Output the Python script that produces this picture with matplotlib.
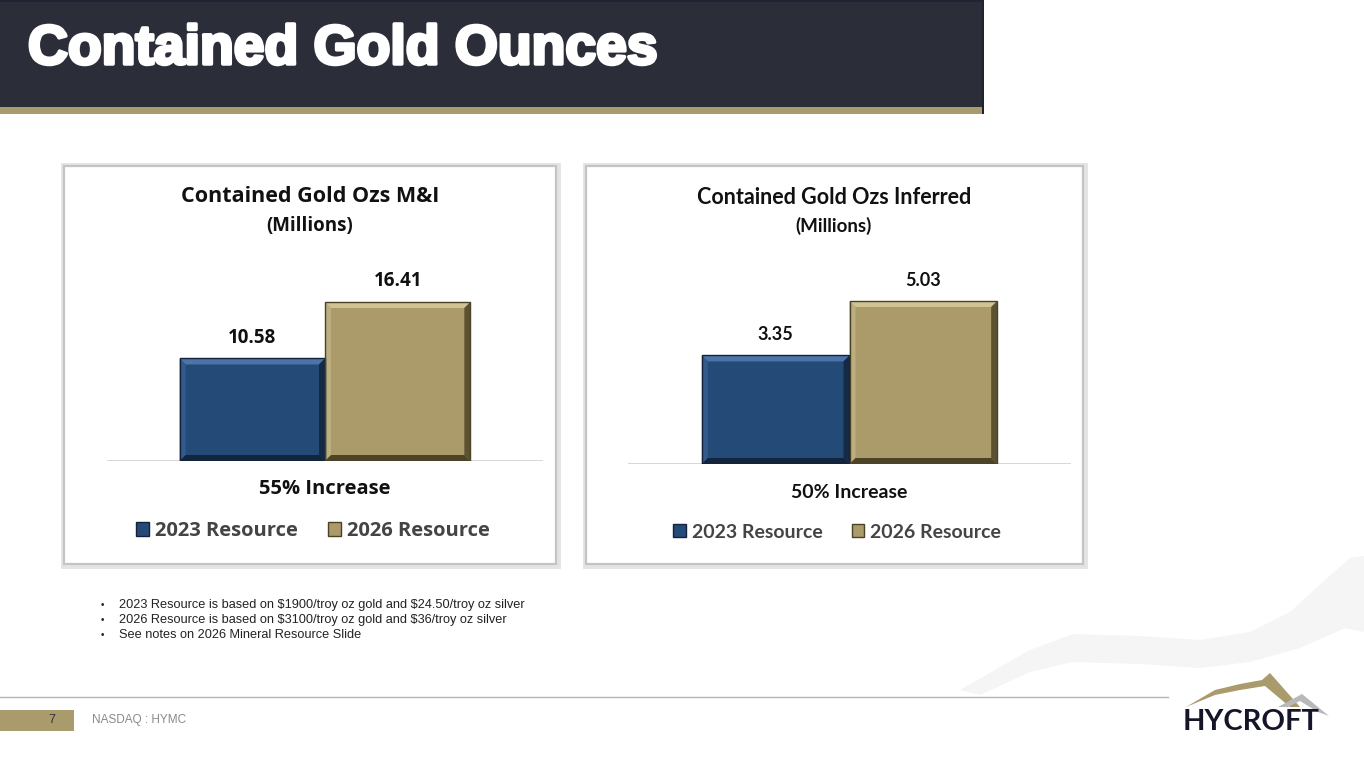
import matplotlib.pyplot as plt
from matplotlib.patches import Rectangle, Polygon, Patch
import matplotlib.patheffects as pe

W, H = 1364, 766

# chart data
series = ["2023 Resource", "2026 Resource"]
mi_values = [10.58, 16.41]
inferred_values = [3.35, 5.03]
mi_note = "55% Increase"
inferred_note = "50% Increase"

footnotes = [
    "2023 Resource is based on $1900/troy oz gold and $24.50/troy oz silver",
    "2026 Resource is based on $3100/troy oz gold and $36/troy oz silver",
    "See notes on 2026 Mineral Resource Slide",
]

BLUE = dict(face="#244a77", top="#4b74a9", left="#34598b", right="#152a45",
            bottom="#12253d", edge="#13223a")
GOLD = dict(face="#ab9b6b", top="#d0c394", left="#bcae80", right="#5c5131",
            bottom="#4d4428", edge="#4a4127")


def fx(x):
    return x / W


def fy(y):
    return 1 - y / H


def bevel(ax, bar, c, px=6):
    # bevelled edges drawn around the bar rectangle
    x0, y0 = bar.get_x(), bar.get_y()
    x1, y1 = x0 + bar.get_width(), y0 + bar.get_height()
    bb = ax.get_window_extent()
    xl, yl = ax.get_xlim(), ax.get_ylim()
    dx = px * (xl[1] - xl[0]) / bb.width
    dy = px * (yl[1] - yl[0]) / bb.height
    quads = [
        ([(x0, y1), (x1, y1), (x1 - dx, y1 - dy), (x0 + dx, y1 - dy)], c["top"]),
        ([(x0, y0), (x0, y1), (x0 + dx, y1 - dy), (x0 + dx, y0 + dy)], c["left"]),
        ([(x1, y0), (x1, y1), (x1 - dx, y1 - dy), (x1 - dx, y0 + dy)], c["right"]),
        ([(x0, y0), (x1, y0), (x1 - dx, y0 + dy), (x0 + dx, y0 + dy)], c["bottom"]),
    ]
    for pts, col in quads:
        ax.add_patch(Polygon(pts, closed=True, facecolor=col, edgecolor="none",
                             zorder=3))
    ax.add_patch(Rectangle((x0, y0), x1 - x0, y1 - y0, facecolor="none",
                           edgecolor=c["edge"], lw=1.0, zorder=4))


def panel(fig, x0, y0, x1, y1):
    fig.add_artist(Rectangle((fx(x0 - 1), fy(y1 + 2)), (x1 - x0 + 3) / W,
                             (y1 - y0 + 3) / H, transform=fig.transFigure,
                             facecolor="none", edgecolor="#e4e4e4", lw=3.5,
                             zorder=-6))
    fig.add_artist(Rectangle((fx(x0), fy(y1)), (x1 - x0) / W, (y1 - y0) / H,
                             transform=fig.transFigure, facecolor="white",
                             edgecolor="#c4c4c4", lw=1.6, zorder=-5))


def chart(fig, box, values, ymax, title, title_x, note, note_y, leg_xy, font,
          tsize, msize, nsize, lsize, vsize):
    left, right, bottom, top = box
    ax = fig.add_axes([fx(left), fy(bottom), (right - left) / W,
                       (bottom - top) / H])
    ax.set_facecolor("none")
    ax.set_xlim(-1, 2)
    ax.set_ylim(0, ymax)
    ax.axis("off")
    ax.axhline(0, color="#d4d4d4", lw=1.3, zorder=1)
    bars = ax.bar([0, 1], values, width=1.0, color=[BLUE["face"], GOLD["face"]],
                  zorder=2)
    for b, c, v in zip(bars, [BLUE, GOLD], values):
        bevel(ax, b, c)
        ax.annotate(f"{v:.2f}", (b.get_x() + b.get_width() / 2, v),
                    xytext=(0, 15), textcoords="offset points", ha="center",
                    va="center", fontsize=vsize, fontweight="bold",
                    family=font, color="#111111", annotation_clip=False)
    fig.text(fx(title_x), fy(197), title, ha="center", va="center",
             fontsize=tsize, fontweight="bold", family=font, color="#111111")
    fig.text(fx(title_x), fy(226), "(Millions)", ha="center", va="center",
             fontsize=msize, fontweight="bold", family=font,
             color="#111111")
    fig.text(fx(leg_xy[0] + 12), fy(note_y), note, ha="center", va="center",
             fontsize=nsize, fontweight="bold", family=font, color="#111111")
    handles = [Patch(facecolor=BLUE["face"], edgecolor=BLUE["edge"]),
               Patch(facecolor=GOLD["face"], edgecolor=GOLD["edge"])]
    ax.legend(handles, series, loc="center", ncol=2, frameon=False,
              bbox_to_anchor=(fx(leg_xy[0]), fy(leg_xy[1])),
              bbox_transform=fig.transFigure, handlelength=0.65,
              handleheight=0.65, handletextpad=0.3, columnspacing=1.5,
              prop=dict(family=font, weight="bold", size=lsize),
              labelcolor="#444444")
    return ax


fig = plt.figure(figsize=(W / 100, H / 100), dpi=100)
fig.patch.set_facecolor("white")

# faint background swoosh
fig.add_artist(Polygon(
    [(fx(960), fy(690)), (fx(1030), fy(650)), (fx(1073), fy(634)),
     (fx(1140), fy(636)), (fx(1200), fy(640)), (fx(1250), fy(632)),
     (fx(1290), fy(612)), (fx(1325), fy(580)), (fx(1350), fy(558)),
     (fx(1364), fy(556)), (fx(1364), fy(632)), (fx(1345), fy(628)),
     (fx(1300), fy(648)), (fx(1250), fy(662)), (fx(1200), fy(668)),
     (fx(1140), fy(664)), (fx(1073), fy(662)), (fx(1030), fy(672)),
     (fx(980), fy(695))],
    closed=True, transform=fig.transFigure, facecolor="#f5f5f5",
    edgecolor="none", zorder=-9))

# header banner
fig.add_artist(Rectangle((0, fy(114)), fx(984), 114 / H,
                         transform=fig.transFigure, facecolor="#1e2433",
                         edgecolor="none", zorder=-8))
fig.add_artist(Rectangle((0, fy(107)), fx(982), 105 / H,
                         transform=fig.transFigure, facecolor="#2b2e39",
                         edgecolor="none", zorder=-7))
fig.add_artist(Rectangle((0, fy(114)), fx(982), 7 / H,
                         transform=fig.transFigure, facecolor="#a99b6c",
                         edgecolor="none", zorder=-7))
fig.text(fx(28), fy(50), "Contained Gold Ounces", ha="left", va="center",
         fontsize=39.8, fontweight="bold", family="Liberation Sans",
         color="white",
         path_effects=[pe.withStroke(linewidth=2.5, foreground="white"),
                       pe.Normal()])

panel(fig, 64, 166, 556, 564)
panel(fig, 586, 166, 1083, 564)

chart(fig, (107, 543, 461, 290), mi_values, 16.41 * 171 / 159,
      "Contained Gold Ozs M&I", 310, mi_note, 489, (313, 531), "Open Sans",
      15.5, 13.5, 14.5, 14.5, 13.5)
chart(fig, (628, 1071, 464, 290), inferred_values, 5.03 * 174 / 163,
      "Contained Gold Ozs Inferred", 834, inferred_note, 492, (837, 532),
      "Lato", 15.5, 13.5, 14, 14, 13)

for i, line in enumerate(footnotes):
    y = fy(605 + 15 * i)
    fig.text(fx(101), y, "\u2022", ha="left", va="center", fontsize=7,
             family="Liberation Sans", color="#222222")
    fig.text(fx(119), y, line, ha="left", va="center", fontsize=9.2,
             family="Liberation Sans", color="#222222", parse_math=False)

# footer
fig.add_artist(plt.Line2D([0, fx(1168)], [fy(697), fy(697)],
                          transform=fig.transFigure, color="#b5b5b5", lw=1))
fig.add_artist(Rectangle((0, fy(731)), fx(74), 21 / H,
                         transform=fig.transFigure, facecolor="#a99b6c",
                         edgecolor="none"))
fig.text(fx(52), fy(720), "7", ha="center", va="center", fontsize=9,
         family="Liberation Sans", color="#333333")
fig.text(fx(92), fy(720), "NASDAQ : HYMC", ha="left", va="center",
         fontsize=8.5, family="Liberation Sans", color="#8a8a8a")

# logo
fig.add_artist(Polygon(
    [(fx(1186), fy(707)), (fx(1215), fy(690)), (fx(1240), fy(684)),
     (fx(1262), fy(680)), (fx(1270), fy(673)), (fx(1300), fy(707)),
     (fx(1290), fy(707)), (fx(1265), fy(686)), (fx(1240), fy(690)),
     (fx(1215), fy(695))],
    closed=True, transform=fig.transFigure, facecolor="#a99b6c",
    edgecolor="none"))
fig.add_artist(Polygon(
    [(fx(1278), fy(707)), (fx(1302), fy(694)), (fx(1329), fy(716)),
     (fx(1318), fy(712)), (fx(1300), fy(701)), (fx(1288), fy(707))],
    closed=True, transform=fig.transFigure, facecolor="#b9b9b9",
    edgecolor="none"))
fig.text(fx(1251), fy(722), "HYCROFT", ha="center", va="center",
         fontsize=21, fontweight="bold", family="Lato", color="#15152a")

fig.savefig("out.png", dpi=100, facecolor="white")
